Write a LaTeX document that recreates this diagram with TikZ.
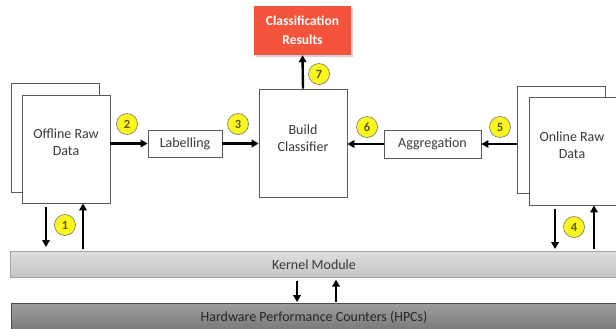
\documentclass[tikz,border=0pt]{standalone}
\usepackage{fontspec}
\setmainfont{Carlito}
\usetikzlibrary{arrows.meta,shadows,calc}
\definecolor{txt}{HTML}{3A3A3A}
\definecolor{numc}{HTML}{5A5A10}
\definecolor{badgefill}{HTML}{FAF51E}
\definecolor{resred}{HTML}{F4533C}
\begin{document}
\begin{tikzpicture}[x=1bp,y=-1bp,
  font=\fontsize{14bp}{16.5bp}\selectfont,
  box/.style={draw=black!65, line width=0.8bp, fill=white, inner sep=0pt, text=txt, align=center},
  plain/.style={text=txt, align=center, inner sep=0pt},
  arr/.style={line width=2.4bp, -{Triangle[length=7bp,width=7.5bp]}},
  badge/.style={circle, fill=badgefill, draw=black!55, line width=0.6bp, minimum size=21bp, inner sep=0pt, text=numc, font=\fontsize{12.5bp}{12.5bp}\selectfont\bfseries},
  bar/.style={draw=#1, line width=0.6bp, inner sep=0pt, text=txt, anchor=north west}]
\useasboundingbox (0,0) rectangle (616,328);

% bars
\node[bar=black!35, top color=black!13, bottom color=black!23, minimum width=612bp, minimum height=26bp] (kern) at (10,251) {};
\node[plain] (kernt) at (314,265) {Kernel Module};
\node[bar=black!70, top color=black!38, bottom color=black!53, minimum width=612bp, minimum height=28bp] (hpc) at (11,303) {};
\node[plain, text=black!85] (hpct) at (314,317) {Hardware Performance Counters (HPCs)};

% offline data
\node[box, minimum width=88bp, minimum height=109bp] (offb) at (55,137.5) {};
\node[box, minimum width=88bp, minimum height=108bp] (off) at (66,149) {};
\node[plain] (offt) at (66,142) {Offline Raw\\Data};

% online data
\node[box, minimum width=88bp, minimum height=107bp] (onb) at (561,139.5) {};
\node[box, minimum width=88bp, minimum height=108bp] (on) at (573,151) {};
\node[plain] (ont) at (572,145) {Online Raw\\Data};

% middle boxes
\node[box, minimum width=74bp, minimum height=27bp] (lab) at (185,143.5) {Labelling};
\node[box, minimum width=88bp, minimum height=108bp] (bc) at (303,143) {};
\node[plain] (bct) at (303,138) {Build\\Classifier};
\node[box, minimum width=97bp, minimum height=28bp] (agg) at (432.5,144) {Aggregation};

% results
\node[draw=none, fill=resred, text=white, font=\fontsize{13.5bp}{19bp}\selectfont\bfseries, align=center,
      minimum width=97bp, minimum height=49bp, inner sep=0pt,
      drop shadow={opacity=0.35, shadow xshift=1.5bp, shadow yshift=-1.5bp}] (res) at (302.5,30.5) {Classification\\Results};

% horizontal arrows
\draw[arr] (lab.west -| off.east) -- (lab.west);
\draw[arr] (lab.east) -- (lab.east -| bc.west);
\draw[arr] (agg.west) -- (agg.west -| bc.east);
\draw[arr] (agg.east -| onb.west) -- (agg.east);
\draw[arr] (bc.north) -- (res.south);

% vertical arrows to/from kernel
\coordinate (x1) at (46,0);
\coordinate (x2) at (83,0);
\coordinate (x3) at (555,0);
\coordinate (x4) at (594,0);
\coordinate (x5) at (297,0);
\coordinate (x6) at (336,0);
\draw[arr, shorten <=4bp, shorten >=4bp] (x1 |- off.south) -- (x1 |- kern.north);
\draw[arr, shorten <=2bp] (x2 |- kern.north) -- (x2 |- off.south);
\draw[arr, shorten <=4bp, shorten >=2bp] (x3 |- on.south) -- (x3 |- kern.north);
\draw[arr, shorten <=2bp] (x4 |- kern.north) -- (x4 |- on.south);
\draw[arr, shorten <=3bp, shorten >=1bp] (x5 |- kern.south) -- (x5 |- hpc.north);
\draw[arr, shorten <=1bp, shorten >=2bp] (x6 |- hpc.north) -- (x6 |- kern.south);

% badges
\node[badge] (b1) at (65,225) {1};
\node[badge] (b2) at (127,124) {2};
\node[badge] (b3) at (238,124) {3};
\node[badge] (b4) at (574,227) {4};
\node[badge] (b5) at (500,127) {5};
\node[badge] (b6) at (367,127) {6};
\node[badge] (b7) at (319,74) {7};
\end{tikzpicture}
\end{document}
